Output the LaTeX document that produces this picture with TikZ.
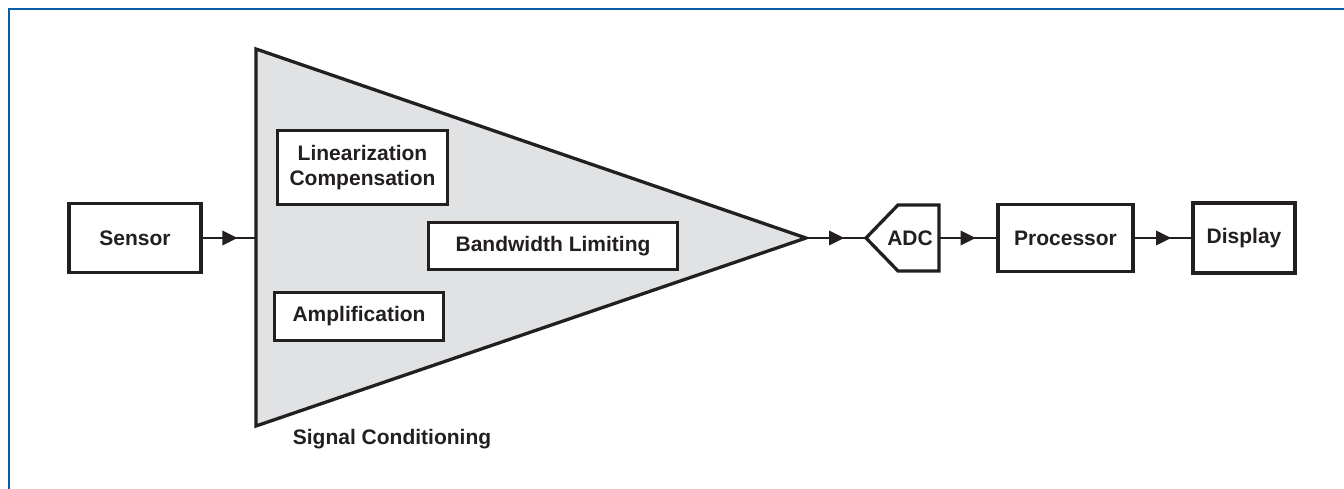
\documentclass[tikz,border=0pt]{standalone}
\usepackage{fontspec}
\setmainfont{Liberation Sans}
\usetikzlibrary{decorations.markings}
\definecolor{framebl}{RGB}{8,92,168}
\definecolor{ink}{RGB}{35,31,32}
\definecolor{condgray}{RGB}{225,226,228}
\tikzset{
  lbl/.style={font=\fontsize{21}{25}\selectfont\bfseries, text=ink, align=center, inner sep=0pt},
  blk/.style={lbl, draw=ink, line width=3.3pt, fill=white},
  conn/.style={draw=ink, line width=1.3pt, postaction={decorate},
    decoration={markings, mark=at position 0.5 with {\fill[ink] (-7pt,-7.5pt) -- (8pt,0pt) -- (-7pt,7.5pt) -- cycle;}}}
}
\begin{document}
\begin{tikzpicture}[x=1pt,y=-1pt]
\useasboundingbox (0,0) rectangle (1344,489);
% frame
\draw[framebl, line width=2.6pt] (9,495) -- (9,9) -- (1350,9);
% signal conditioning triangle
\draw[ink, line width=3.3pt, fill=condgray, line join=miter] (256,49) -- (806,238) -- (256,426) -- cycle;
\coordinate (triL) at (256,238);
\coordinate (triTip) at (806,238);
\node[lbl] (sigcond) at (392,439) {Signal Conditioning};
% blocks
\node[blk, minimum width=132pt, minimum height=69pt] (sensor) at (135,238) {Sensor};
\node[blk, minimum width=170pt, minimum height=74pt] (lin) at (362.5,167.5) {Linearization\\Compensation};
\node[blk, minimum width=249pt, minimum height=47pt] (bw) at (553,246) {Bandwidth Limiting};
\node[blk, minimum width=169pt, minimum height=48pt] (amp) at (359,316.5) {Amplification};
% ADC
\draw[ink, line width=3.3pt, fill=white, line join=miter] (866,238) -- (898,205) -- (939,205) -- (939,271) -- (898,271) -- cycle;
\coordinate (adcL) at (866,238);
\coordinate (adcR) at (939,238);
\node[lbl] (adc) at (910,238) {ADC};
\node[blk, minimum width=135pt, minimum height=67pt] (proc) at (1065.5,238) {Processor};
\node[blk, minimum width=102pt, minimum height=70pt] (disp) at (1244,238) {Display};
% connectors
\path[conn] (sensor.east) -- (triL);
\path[conn] (triTip) -- (adcL);
\path[conn] (adcR) -- (proc.west);
\path[conn] (proc.east) -- (disp.west);
\end{tikzpicture}
\end{document}
